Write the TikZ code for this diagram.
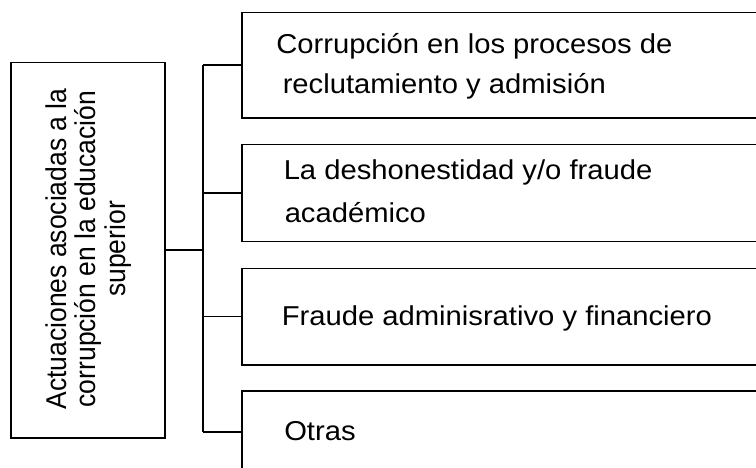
\documentclass[tikz,border=0pt]{standalone}
\usepackage{fontspec}
\setmainfont{Liberation Sans}
\newfontfamily\hfont[FakeStretch=1.07]{Liberation Sans}
\begin{document}
\begin{tikzpicture}[x=1pt,y=-1pt,
  line width=1.5pt,
  boxstyle/.style={draw=black, line width=1.5pt, rectangle, inner sep=0pt, anchor=north west},
  txt/.style={anchor=base west, inner sep=0pt, font=\hfont\fontsize{27.3}{41}\selectfont},
  link/.style={draw=black, line width=1.5pt}]
\useasboundingbox (0,0) rectangle (756,468);
\clip (0,0) rectangle (756,468);
% left box
\node[boxstyle, minimum width=154pt, minimum height=375.3pt] (L) at (10,61.7) {};
\begin{scope}[shift={(88.5,249)}, xscale=1.08]
\node[rotate=90, transform shape, align=center, inner sep=0pt, font=\fontsize{26.5}{27}\selectfont] (Lt) at (0,0)
  {Actuaciones asociadas a la\\corrupción en la educación\\superior};
\end{scope}
% right boxes
\node[boxstyle, minimum width=530pt, minimum height=105.6pt] (b1) at (241,11.7) {};
\node[boxstyle, minimum width=530pt, minimum height=96.7pt] (b2) at (241,144) {};
\node[boxstyle, minimum width=530pt, minimum height=96.3pt] (b3) at (241,267.7) {};
\node[boxstyle, minimum width=530pt, minimum height=82.6pt] (b4) at (241,390) {};
% texts
\node[txt] (t1a) at (275.5,53.3) {Corrupción en los procesos de};
\node[txt] (t1b) at (282,94) {reclutamiento y admisión};
\node[txt] (t2a) at (283,180) {La deshonestidad y/o fraude};
\node[txt] (t2b) at (284,222.7) {académico};
\node[txt] (t3) at (281,325) {Fraude adminisrativo y financiero};
\node[txt] (t4) at (283.5,440.7) {Otras};
% connectors
\coordinate (bus) at (203,249.5);
\draw[link] (L.east) -- (L.east -| bus);
\draw[link] (b1.west -| bus) -- (b4.west -| bus);
\draw[link] (b1.west -| bus) -- (b1.west);
\draw[link] (b2.west -| bus) -- (b2.west);
\draw[link] (b3.west -| bus) -- (b3.west);
\draw[link] (b4.west -| bus) -- (b4.west);
\end{tikzpicture}
\end{document}
